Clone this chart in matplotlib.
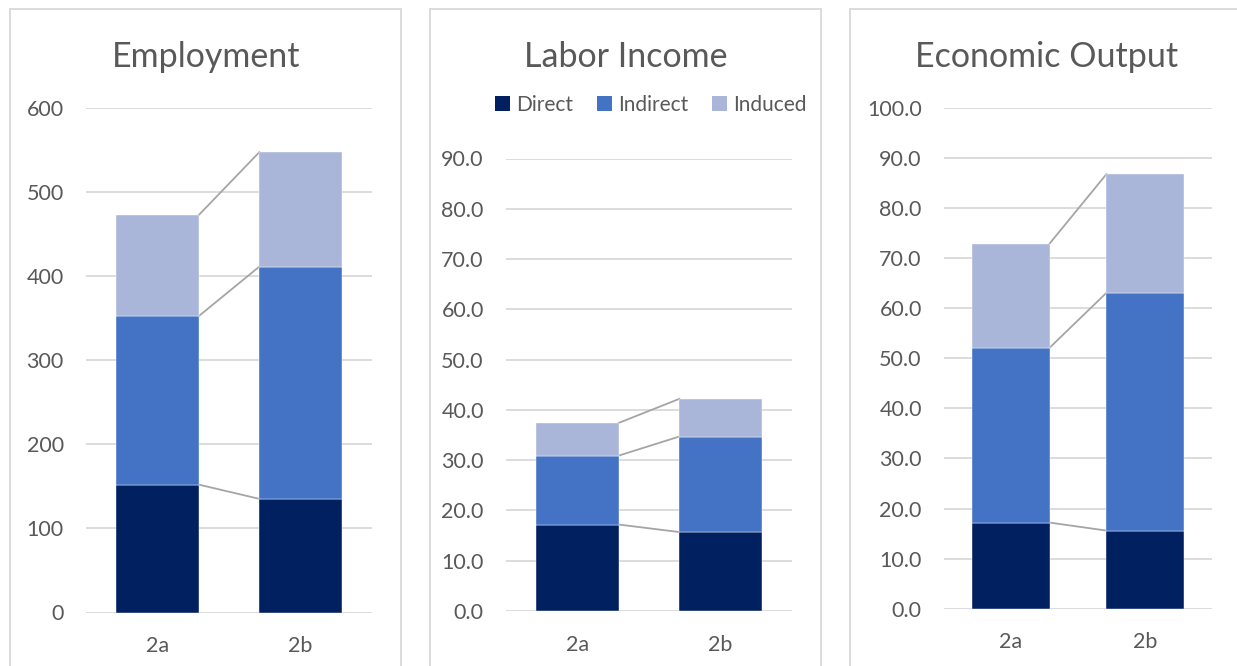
import matplotlib
matplotlib.use("Agg")
import matplotlib.pyplot as plt
from matplotlib.patches import Rectangle, Patch
import numpy as np

plt.rcParams['font.family'] = ['Lato', 'DejaVu Sans']

categories = ["2a", "2b"]
series_names = ["Direct", "Indirect", "Induced"]
colors = ["#002060", "#4472C4", "#A9B5D9"]

employment_direct = [152, 135]
employment_indirect = [200, 276]
employment_induced = [120, 136]

labor_direct = [17.2, 15.7]
labor_indirect = [13.7, 19.0]
labor_induced = [6.5, 7.5]

output_direct = [17.2, 15.6]
output_indirect = [34.9, 47.5]
output_induced = [20.8, 23.7]

panels = [
    ("Employment", [employment_direct, employment_indirect, employment_induced],
     np.arange(0, 601, 100), "{:.0f}", (0, 600)),
    ("Labor Income", [labor_direct, labor_indirect, labor_induced],
     np.arange(0, 91, 10), "{:.1f}", (0, 90)),
    ("Economic Output", [output_direct, output_indirect, output_induced],
     np.arange(0, 101, 10), "{:.1f}", (0, 100)),
]

W, H = 1237, 666
fig = plt.figure(figsize=(W / 100, H / 100), dpi=100)

# pixel layout: (axes left, axes right, y of zero line, y of top line), border box
ax_px = [(86, 372, 612.5, 107.5), (506, 792, 611, 158.5), (944, 1212, 608.7, 108)]
box_px = [(10, 401), (430, 821), (850, 1250)]
title_x = [206, 626, 1047]

text_color = "#595959"
grid_color = "#D9D9D9"
bar_w = 0.575

for (title, data, ticks, fmt, ylim), (l, r, y0, y1), (bl, br), tx in zip(panels, ax_px, box_px, title_x):
    # chart border
    fig.patches.append(Rectangle((bl / W, -0.05), (br - bl) / W, 1.05 - 9 / H,
                                 transform=fig.transFigure, fill=False,
                                 edgecolor=grid_color, lw=1.3, zorder=0))
    ax = fig.add_axes([l / W, 1 - y0 / H, (r - l) / W, (y0 - y1) / H])
    x = np.arange(len(categories))
    bottom = np.zeros(len(categories))
    tops = []
    for vals, c, name in zip(data, colors, series_names):
        ax.bar(x, vals, bar_w, bottom=bottom, color=c, label=name, zorder=3,
               edgecolor="white", linewidth=0.3)
        bottom = bottom + np.array(vals)
        tops.append(bottom.copy())
    for t in tops:
        ax.plot([x[0] + bar_w / 2, x[1] - bar_w / 2], [t[0], t[1]],
                color="#A5A5A5", lw=1.3, zorder=2)
    ax.set_xlim(-0.5, 1.5)
    ax.set_ylim(*ylim)
    ax.set_yticks(ticks)
    ax.set_yticklabels([fmt.format(v) for v in ticks])
    ax.set_xticks(x)
    ax.set_xticklabels(categories)
    ax.grid(axis="y", color=grid_color, lw=1.3, zorder=0)
    ax.set_axisbelow(True)
    for s in ax.spines.values():
        s.set_visible(False)
    ax.tick_params(axis="both", length=0, colors=text_color, labelsize=15.5)
    ax.tick_params(axis="y", pad=16)
    ax.tick_params(axis="x", pad=17)
    fig.text(tx / W, 1 - 57 / H, title, ha="center", va="center",
             fontsize=24.5, color=text_color)

handles = [Patch(facecolor=c, label=n) for c, n in zip(colors, series_names)]
fig.legend(handles=handles, loc="center", bbox_to_anchor=(651 / W, 1 - 105 / H),
           ncol=3, frameon=False, fontsize=15, handlelength=0.7, handleheight=0.7,
           handletextpad=0.3, columnspacing=1.15, labelcolor=text_color,
           borderpad=0, borderaxespad=0)

fig.savefig("out.png", dpi=100, facecolor="white")
